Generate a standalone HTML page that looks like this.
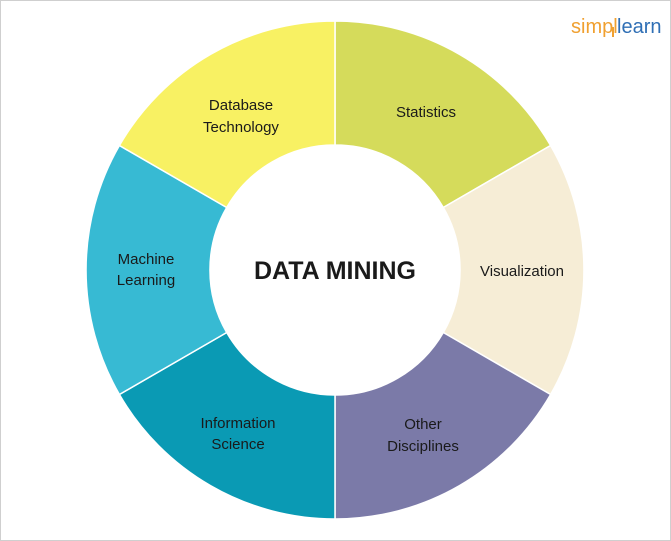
<!DOCTYPE html>
<html><head><style>
html,body{margin:0;padding:0;background:#fff}
svg{display:block}
text{font-family:"Liberation Sans",sans-serif;fill:#1a1a1a}
</style></head><body>
<svg width="671" height="541" viewBox="0 0 671 541">
<rect x="0.5" y="0.5" width="670" height="540" fill="#fff" stroke="#cfcfcf"/>
<g stroke="#fff" stroke-width="1.5">
<path d="M335,21 A249,249 0 0 1 550.6,145.5 L443.3,207.5 A125,125 0 0 0 335,145 Z" fill="#d5db5b"/>
<path d="M550.6,145.5 A249,249 0 0 1 550.6,394.5 L443.3,332.5 A125,125 0 0 0 443.3,207.5 Z" fill="#f6edd6"/>
<path d="M550.6,394.5 A249,249 0 0 1 335,519 L335,395 A125,125 0 0 0 443.3,332.5 Z" fill="#7b7aa8"/>
<path d="M335,519 A249,249 0 0 1 119.4,394.5 L226.7,332.5 A125,125 0 0 0 335,395 Z" fill="#0a9ab4"/>
<path d="M119.4,394.5 A249,249 0 0 1 119.4,145.5 L226.7,207.5 A125,125 0 0 0 226.7,332.5 Z" fill="#37bad3"/>
<path d="M119.4,145.5 A249,249 0 0 1 335,21 L335,145 A125,125 0 0 0 226.7,207.5 Z" fill="#f8f163"/>
</g>
<g font-size="15" text-anchor="middle">
<text x="241" y="110">Database</text><text x="241" y="132">Technology</text>
<text x="426" y="117">Statistics</text>
<text x="522" y="276">Visualization</text>
<text x="423" y="429">Other</text><text x="423" y="451">Disciplines</text>
<text x="238" y="428">Information</text><text x="238" y="449">Science</text>
<text x="146" y="264">Machine</text><text x="146" y="285">Learning</text>
</g>
<text x="335" y="279" font-size="25" font-weight="bold" text-anchor="middle">DATA MINING</text>
<text x="571" y="33" font-size="20" fill="#f0a030" style="fill:#f0a030">simpl</text>
<text x="617" y="33" font-size="20" style="fill:#2f6fb5">learn</text>
<rect x="612" y="27" width="2" height="10" fill="#f0a030"/>
</svg>
</body></html>
